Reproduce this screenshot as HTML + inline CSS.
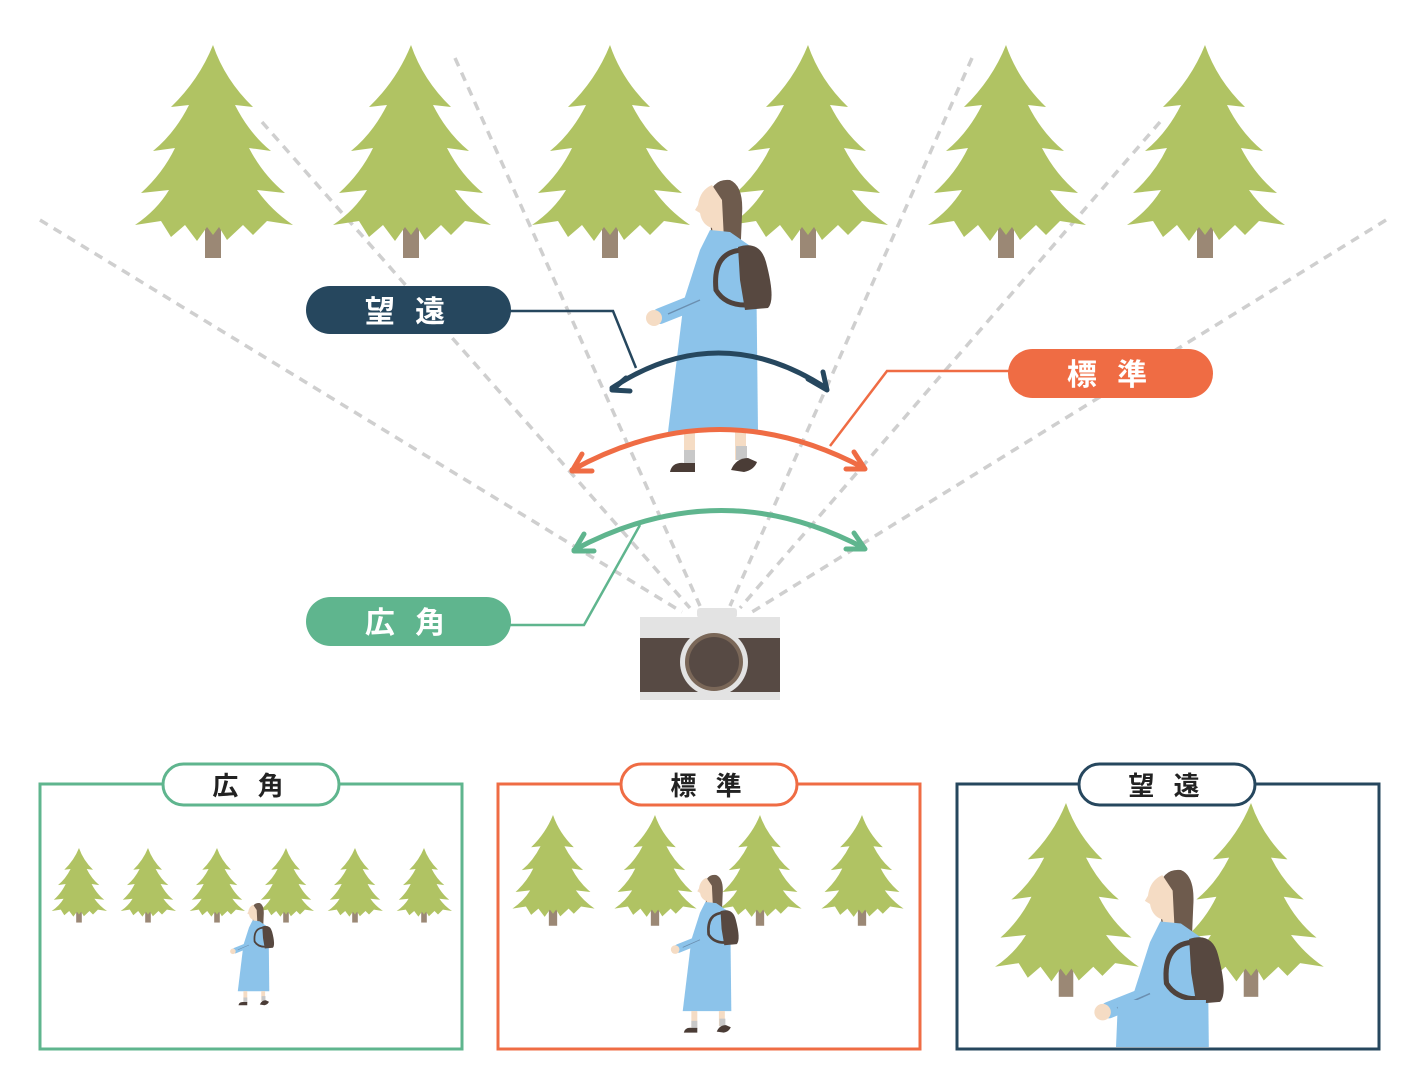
<!DOCTYPE html>
<html><head><meta charset="utf-8"><style>
html,body{margin:0;padding:0;background:#fff;width:1420px;height:1089px;overflow:hidden;}
svg{display:block;position:fixed;top:0;left:0;}
text{font-family:"Liberation Sans","Noto Sans CJK JP",sans-serif;font-weight:bold;}
</style></head><body>
<svg width="1420" height="1089" viewBox="0 0 1420 1089" xmlns="http://www.w3.org/2000/svg">
<defs>
<g id="tree">
<rect x="-8" y="165" width="16" height="48" fill="#9b8875"/>
<path fill="#b0c363" d="M0,0 Q12,35 40,62 L22,60 Q36,88 58,106 L36,103 Q50,130 72,148 L44,145 Q58,165 80,180 L54,176 L40,190 L30,180 L14,195 L6,182 L0,190 L-6,182 L-16,196 L-28,180 L-42,192 L-52,176 L-78,180 Q-56,165 -44,145 L-72,148 Q-50,128 -38,103 L-60,106 Q-38,88 -24,60 L-42,62 Q-14,35 0,0 Z"/>
</g>
<g id="person">
<path fill="#6e5b4d" d="M708,200 Q712,178 730,180 Q744,186 742,215 L740,262 L725,262 L712,240 Z"/>
<path fill="#f5dcc4" d="M712,185 Q700,190 698,205 L695,210 L700,213 Q702,225 712,228 L714,240 L724,240 L722,200 Z"/>
<path fill="#8cc3ea" d="M710,230 L730,232 L756,250 L758,432 L668,432 L684,300 L700,250 Z"/>
<path fill="none" stroke="#8cc3ea" stroke-width="16" stroke-linecap="round" d="M718,258 L700,300 L660,316"/>
<path fill="none" stroke="#6b8fb0" stroke-width="1.5" d="M700,300 L668,314"/>
<circle cx="654" cy="318" r="8" fill="#f5dcc4"/>
<path fill="none" stroke="#4f423c" stroke-width="5" d="M745,250 Q712,250 716,290 Q725,305 745,305"/>
<path fill="#574840" d="M738,247 Q760,240 766,262 Q776,300 768,308 L745,310 L740,280 Z"/>
<rect x="684" y="432" width="11" height="32" fill="#f5dcc4"/>
<rect x="735" y="432" width="11" height="28" fill="#f5dcc4"/>
<rect x="684" y="450" width="11" height="16" fill="#c8c8c8"/>
<rect x="736" y="446" width="11" height="14" fill="#c8c8c8"/>
<path fill="#4a3c36" d="M670,472 Q672,462 684,463 L695,463 L695,472 Z"/>
<path fill="#4a3c36" d="M731,470 Q736,458 748,458 L757,462 Q754,470 744,472 Z"/>
</g>
<clipPath id="c3"><rect x="959" y="785" width="418" height="262"/></clipPath>
</defs>

<g stroke="#cfcfcf" stroke-width="3.5" stroke-dasharray="9 7" fill="none">
<line x1="40" y1="220" x2="682" y2="612"/>
<line x1="262" y1="122" x2="690" y2="608"/>
<line x1="455" y1="58" x2="700" y2="606"/>
<line x1="972" y1="58" x2="730" y2="606"/>
<line x1="1160" y1="122" x2="740" y2="608"/>
<line x1="1386" y1="220" x2="752" y2="612"/>
</g>

<use href="#tree" transform="translate(213,45)"/>
<use href="#tree" transform="translate(411,45)"/>
<use href="#tree" transform="translate(610,45)"/>
<use href="#tree" transform="translate(808,45)"/>
<use href="#tree" transform="translate(1006,45)"/>
<use href="#tree" transform="translate(1205,45)"/>

<use href="#person"/>

<g fill="none" stroke-width="5" stroke-linecap="round" stroke-linejoin="round">
<path stroke="#26475e" d="M612,388 Q718,318 826,388"/>
<path stroke="#26475e" d="M626,378 L612,390 L630,391 M808,379 L827,390 L823,372"/>
<path stroke="#ef6c44" d="M572,470 Q718,390 864,468"/>
<path stroke="#ef6c44" d="M582,454 L572,471 L592,471 M846,469 L865,469 L854,452"/>
<path stroke="#5fb58e" d="M574,550 Q720,472 864,548"/>
<path stroke="#5fb58e" d="M584,534 L574,551 L594,551 M846,549 L865,549 L854,533"/>
</g>

<g fill="none" stroke-width="2.5">
<polyline stroke="#26475e" points="508,311 613,311 636,368"/>
<polyline stroke="#ef6c44" points="1010,371 887,371 830,446"/>
<polyline stroke="#5fb58e" points="508,625 584,625 640,525"/>
</g>

<rect x="306" y="286" width="205" height="48" rx="24" fill="#26475e"/>
<text x="408" y="322" font-size="30" fill="#fff" text-anchor="middle" letter-spacing="6">望 遠</text>
<rect x="1008" y="349" width="205" height="49" rx="24.5" fill="#ef6c44"/>
<text x="1110" y="385" font-size="30" fill="#fff" text-anchor="middle" letter-spacing="6">標 準</text>
<rect x="306" y="597" width="205" height="49" rx="24.5" fill="#5fb58e"/>
<text x="408" y="633" font-size="30" fill="#fff" text-anchor="middle" letter-spacing="6">広 角</text>

<rect x="697" y="608" width="40" height="10" rx="3" fill="#e3e3e3"/>
<rect x="640" y="617" width="140" height="22" fill="#e3e3e3"/>
<rect x="640" y="638" width="140" height="54" fill="#574a44"/>
<rect x="640" y="692" width="140" height="8" fill="#e3e3e3"/>
<circle cx="714" cy="662" r="34" fill="#e3e3e3"/>
<circle cx="714" cy="662" r="29" fill="#7a6758"/>
<circle cx="714" cy="662" r="25" fill="#574a44"/>

<g fill="none" stroke-width="3">
<rect x="40" y="784" width="422" height="265" stroke="#5fb58e"/>
<rect x="498" y="784" width="422" height="265" stroke="#ef6c44"/>
<rect x="957" y="784" width="422" height="265" stroke="#26475e"/>
</g>

<g>
<use href="#tree" transform="translate(79,848) scale(0.35)"/>
<use href="#tree" transform="translate(148,848) scale(0.35)"/>
<use href="#tree" transform="translate(217,848) scale(0.35)"/>
<use href="#tree" transform="translate(286,848) scale(0.35)"/>
<use href="#tree" transform="translate(355,848) scale(0.35)"/>
<use href="#tree" transform="translate(424,848) scale(0.35)"/>
<use href="#person" transform="translate(249,903) scale(0.35) translate(-700,-180)"/>
</g>
<g>
<use href="#tree" transform="translate(553,815) scale(0.52)"/>
<use href="#tree" transform="translate(655,815) scale(0.52)"/>
<use href="#tree" transform="translate(760,815) scale(0.52)"/>
<use href="#tree" transform="translate(862,815) scale(0.52)"/>
<use href="#person" transform="translate(700,875) scale(0.54) translate(-700,-180)"/>
</g>
<g clip-path="url(#c3)">
<use href="#tree" transform="translate(1066,803) scale(0.91)"/>
<use href="#tree" transform="translate(1251,803) scale(0.91)"/>
<use href="#person" transform="translate(1150,870) scale(1.03) translate(-700,-180)"/>
<path d="M1118,1000 L1206,1000 L1204,1047 L1116,1047 Z" fill="#8cc3ea"/>
</g>

<rect x="163" y="764" width="176" height="41" rx="20.5" fill="#fff" stroke="#5fb58e" stroke-width="3"/>
<text x="251" y="795" font-size="26" fill="#222" text-anchor="middle" letter-spacing="6">広 角</text>
<rect x="621" y="764" width="176" height="41" rx="20.5" fill="#fff" stroke="#ef6c44" stroke-width="3"/>
<text x="709" y="795" font-size="26" fill="#222" text-anchor="middle" letter-spacing="6">標 準</text>
<rect x="1079" y="764" width="176" height="41" rx="20.5" fill="#fff" stroke="#26475e" stroke-width="3"/>
<text x="1167" y="795" font-size="26" fill="#222" text-anchor="middle" letter-spacing="6">望 遠</text>
</svg>
</body></html>
